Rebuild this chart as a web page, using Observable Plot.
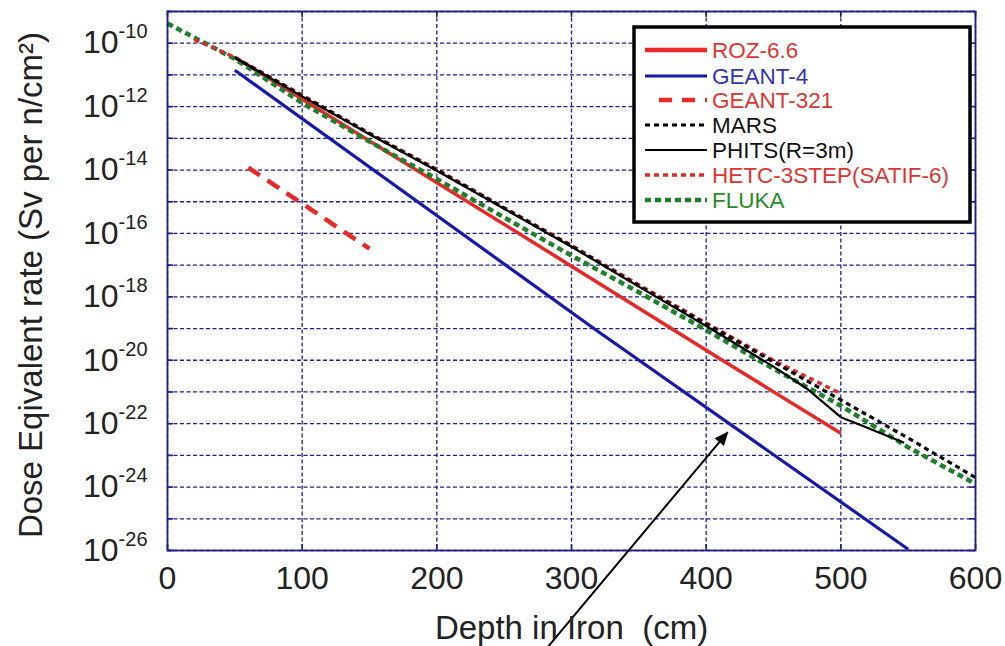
<!DOCTYPE html>
<html><head><meta charset="utf-8">
<script src="https://cdn.jsdelivr.net/npm/d3@7"></script>
<script src="https://cdn.jsdelivr.net/npm/@observablehq/plot@0.6"></script>
<style>
body{margin:0;background:#fff;}
svg{font-family:"Liberation Sans",Arial,sans-serif;}
</style>
</head><body><div id="chart"></div>
<script>
// ---- data ----
const xTicks = [0, 100, 200, 300, 400, 500, 600];
const yGrid = [1e-26,1e-25,1e-24,1e-23,1e-22,1e-21,1e-20,1e-19,1e-18,1e-17,1e-16,1e-15,1e-14,1e-13,1e-12,1e-11,1e-10,1e-9];
const yLabelTicks = [1e-26,1e-24,1e-22,1e-20,1e-18,1e-16,1e-14,1e-12,1e-10];

const rozDepth = [50, 150, 300, 412, 500];
const rozDose  = [3.6e-11, 8.3e-14, 9.3e-18, 1.0e-20, 5.0e-23];

const g4Depth = [50, 320, 550];
const g4Dose  = [1.4e-11, 7.9e-20, 1.1e-26];

const g321Depth = [60, 150];
const g321Dose  = [1.2e-14, 3.3e-17];

const marsDepth = [50, 100, 150, 200, 250, 300, 350, 400, 450, 500, 550, 600];
const marsDose  = [3.5e-11, 2.2e-12, 1.4e-13, 1.0e-14, 6.3e-16, 4.0e-17, 2.2e-18, 1.4e-19, 8.9e-21, 5.6e-22, 3.5e-23, 2.0e-24];

const phitsDepth = [50, 100, 150, 200, 250, 300, 350, 400, 450, 475, 500, 515, 547];
const phitsDose  = [3.5e-11, 2.1e-12, 1.35e-13, 9.5e-15, 6.0e-16, 3.8e-17, 2.1e-18, 1.2e-19, 6.3e-21, 1.26e-21, 1.6e-22, 8.9e-23, 2.5e-23];

const hetcDepth = [20, 50, 100, 150, 200, 250, 300, 350, 400, 450, 500];
const hetcDose  = [1.3e-10, 3.6e-11, 2.3e-12, 1.45e-13, 1.05e-14, 6.5e-16, 4.2e-17, 2.4e-18, 1.5e-19, 1.0e-20, 8.9e-22];

const flukaDepth = [0, 50, 100, 150, 200, 250, 300, 350, 400, 450, 500, 550, 600];
const flukaDose  = [4.2e-10, 3.2e-11, 1.3e-12, 7.9e-14, 5.2e-15, 3.2e-16, 2.0e-17, 1.4e-18, 8.9e-20, 5.4e-21, 3.7e-22, 1.8e-23, 1.26e-24];

const arrowDepth = [274, 416];
const arrowDose  = [3.4e-30, 5.4e-23];

const seriesNames = ["ROZ-6.6","GEANT-4","GEANT-321","MARS","PHITS(R=3m)","HETC-3STEP(SATIF-6)","FLUKA"];
const xTitle = "Depth in Iron  (cm)";
const yTitle = "Dose Eqivalent rate (Sv per n/cm\u00B2)";

// ---- styles ----
const RED = "#e62a2a", BLUE = "#1818aa", GREEN = "#1f7f2a", NAVY = "#202080", BLACK = "#000";
const styles = {
  "ROZ-6.6": {stroke: RED, strokeWidth: 3.5, dash: null, text: "#e03535"},
  "GEANT-4": {stroke: BLUE, strokeWidth: 3.2, dash: null, text: "#3535b0"},
  "GEANT-321": {stroke: RED, strokeWidth: 4.5, dash: "14,9", text: "#e03535"},
  "MARS": {stroke: BLACK, strokeWidth: 3.2, dash: "5,4", text: "#111"},
  "PHITS(R=3m)": {stroke: BLACK, strokeWidth: 2.2, dash: null, text: "#111"},
  "HETC-3STEP(SATIF-6)": {stroke: "#dd2a2a", strokeWidth: 3.4, dash: "5,4", text: "#e03535"},
  "FLUKA": {stroke: GREEN, strokeWidth: 4.5, dash: "6,4", text: "#2a8a2a"}
};

function mk(name, xs, ys) { return xs.map((x, i) => ({name, x, y: ys[i]})); }
const data = {
  "ROZ-6.6": mk("ROZ-6.6", rozDepth, rozDose),
  "GEANT-4": mk("GEANT-4", g4Depth, g4Dose),
  "GEANT-321": mk("GEANT-321", g321Depth, g321Dose),
  "MARS": mk("MARS", marsDepth, marsDose),
  "PHITS(R=3m)": mk("PHITS(R=3m)", phitsDepth, phitsDose),
  "HETC-3STEP(SATIF-6)": mk("HETC-3STEP(SATIF-6)", hetcDepth, hetcDose),
  "FLUKA": mk("FLUKA", flukaDepth, flukaDose)
};
const drawOrder = ["GEANT-4","ROZ-6.6","GEANT-321","FLUKA","HETC-3STEP(SATIF-6)","MARS","PHITS(R=3m)"];

function lineMark(name) {
  const s = styles[name];
  const o = {x: "x", y: "y", stroke: s.stroke, strokeWidth: s.strokeWidth, strokeLinecap: "butt", curve: "linear"};
  if (s.dash) o.strokeDasharray = s.dash;
  return Plot.line(data[name], o);
}

const W = 1005, H = 646, ML = 167, MR = 30, MT = 11, MB = 96;
const FW = W - ML - MR, FH = H - MT - MB, TK = 6;

const plot = Plot.plot({
  width: W, height: H,
  marginLeft: ML, marginRight: MR, marginTop: MT, marginBottom: MB,
  style: {background: "white", fontFamily: '"Liberation Sans", Arial, sans-serif', color: "#222"},
  x: {domain: [0, 600]},
  y: {type: "log", domain: [1e-26, 1e-9]},
  marks: [
    Plot.ruleX(xTicks, {x: d => d, stroke: NAVY, strokeWidth: 1.3, strokeDasharray: "4,2.5"}),
    Plot.ruleY(yGrid, {y: d => d, stroke: NAVY, strokeWidth: 1.3, strokeDasharray: "4,2.5"}),
    // inner tick stubs on all four sides
    Plot.ruleY(yGrid, {y: d => d, stroke: NAVY, strokeWidth: 1.6, insetRight: FW - TK}),
    Plot.ruleY(yGrid, {y: d => d, stroke: NAVY, strokeWidth: 1.6, insetLeft: FW - TK}),
    Plot.ruleX(xTicks, {x: d => d, stroke: NAVY, strokeWidth: 1.6, insetTop: FH - TK}),
    Plot.ruleX(xTicks, {x: d => d, stroke: NAVY, strokeWidth: 1.6, insetBottom: FH - TK}),
    Plot.axisX({ticks: xTicks, tickSize: 0, tickPadding: 16, fontSize: 32, label: null, tickFormat: d => String(d)}),
    Plot.axisY({ticks: yLabelTicks, tickSize: 0, tickPadding: 20, fontSize: 32, label: null,
      tickFormat: d => String(Math.round(Math.log10(d)))}),
    ...drawOrder.map(lineMark),
    Plot.frame({stroke: NAVY, strokeWidth: 1.8}),
    Plot.link([0], {x1: () => arrowDepth[0], y1: () => arrowDose[0], x2: () => arrowDepth[1], y2: () => arrowDose[1],
      stroke: BLACK, strokeWidth: 2, clip: false}),
    Plot.text([xTitle], {frameAnchor: "bottom", lineAnchor: "middle", textAnchor: "middle", dy: 78, fontSize: 33, fill: "#222", text: d => d}),
    Plot.text([yTitle], {frameAnchor: "left", lineAnchor: "middle", textAnchor: "middle", dx: -136, dy: 4, rotate: -90, fontSize: 33, fill: "#222", text: d => d})
  ]
});

const svg = d3.select(plot);
svg.style("overflow", "hidden");

// superscript tick labels
svg.selectAll('g[aria-label="y-axis tick label"] text').each(function() {
  const t = d3.select(this);
  const exp = t.text();
  if (!exp) return;
  t.text(null);
  t.append("tspan").text("10");
  t.append("tspan").attr("font-size", 20).attr("dy", -15).text(exp);
});

// filled arrow head
const defs = svg.append("defs");
defs.append("marker").attr("id", "ahead").attr("viewBox", "0 0 14 14")
  .attr("refX", 13).attr("refY", 7).attr("markerWidth", 14).attr("markerHeight", 14)
  .attr("markerUnits", "userSpaceOnUse").attr("orient", "auto")
  .append("path").attr("d", "M0,1 L14,7 L0,13 Z").attr("fill", "#000");
svg.selectAll('g[aria-label="link"] path').attr("marker-end", "url(#ahead)");

// legend (inside the plot area, top right)
const lg = svg.append("g").attr("class", "legend").attr("text-anchor", "start");
lg.append("rect").attr("x", 634).attr("y", 27).attr("width", 336).attr("height", 195)
  .attr("fill", "white").attr("stroke", "#000").attr("stroke-width", 3.5);
const rowsY = [50, 76, 100, 125, 150, 175, 200];
const legendKeys = ["ROZ-6.6","GEANT-4","GEANT-321","MARS","PHITS(R=3m)","HETC-3STEP(SATIF-6)","FLUKA"];
legendKeys.forEach((k, i) => {
  const s = styles[k];
  const y = rowsY[i];
  const ln = lg.append("line").attr("x1", k === "GEANT-321" ? 659 : 645).attr("x2", 707)
    .attr("y1", y).attr("y2", y).attr("stroke", s.stroke)
    .attr("stroke-width", k === "ROZ-6.6" ? 4.5 : (k === "GEANT-321" ? 4.5 : s.strokeWidth));
  if (s.dash) ln.attr("stroke-dasharray", k === "GEANT-321" ? "13,10" : s.dash);
  lg.append("text").attr("x", 712).attr("y", y).attr("dy", "0.36em").attr("text-anchor", "start")
    .attr("font-size", 22.5).attr("fill", s.text).text(seriesNames[i]);
});

document.getElementById("chart").appendChild(plot);
</script></body></html>
